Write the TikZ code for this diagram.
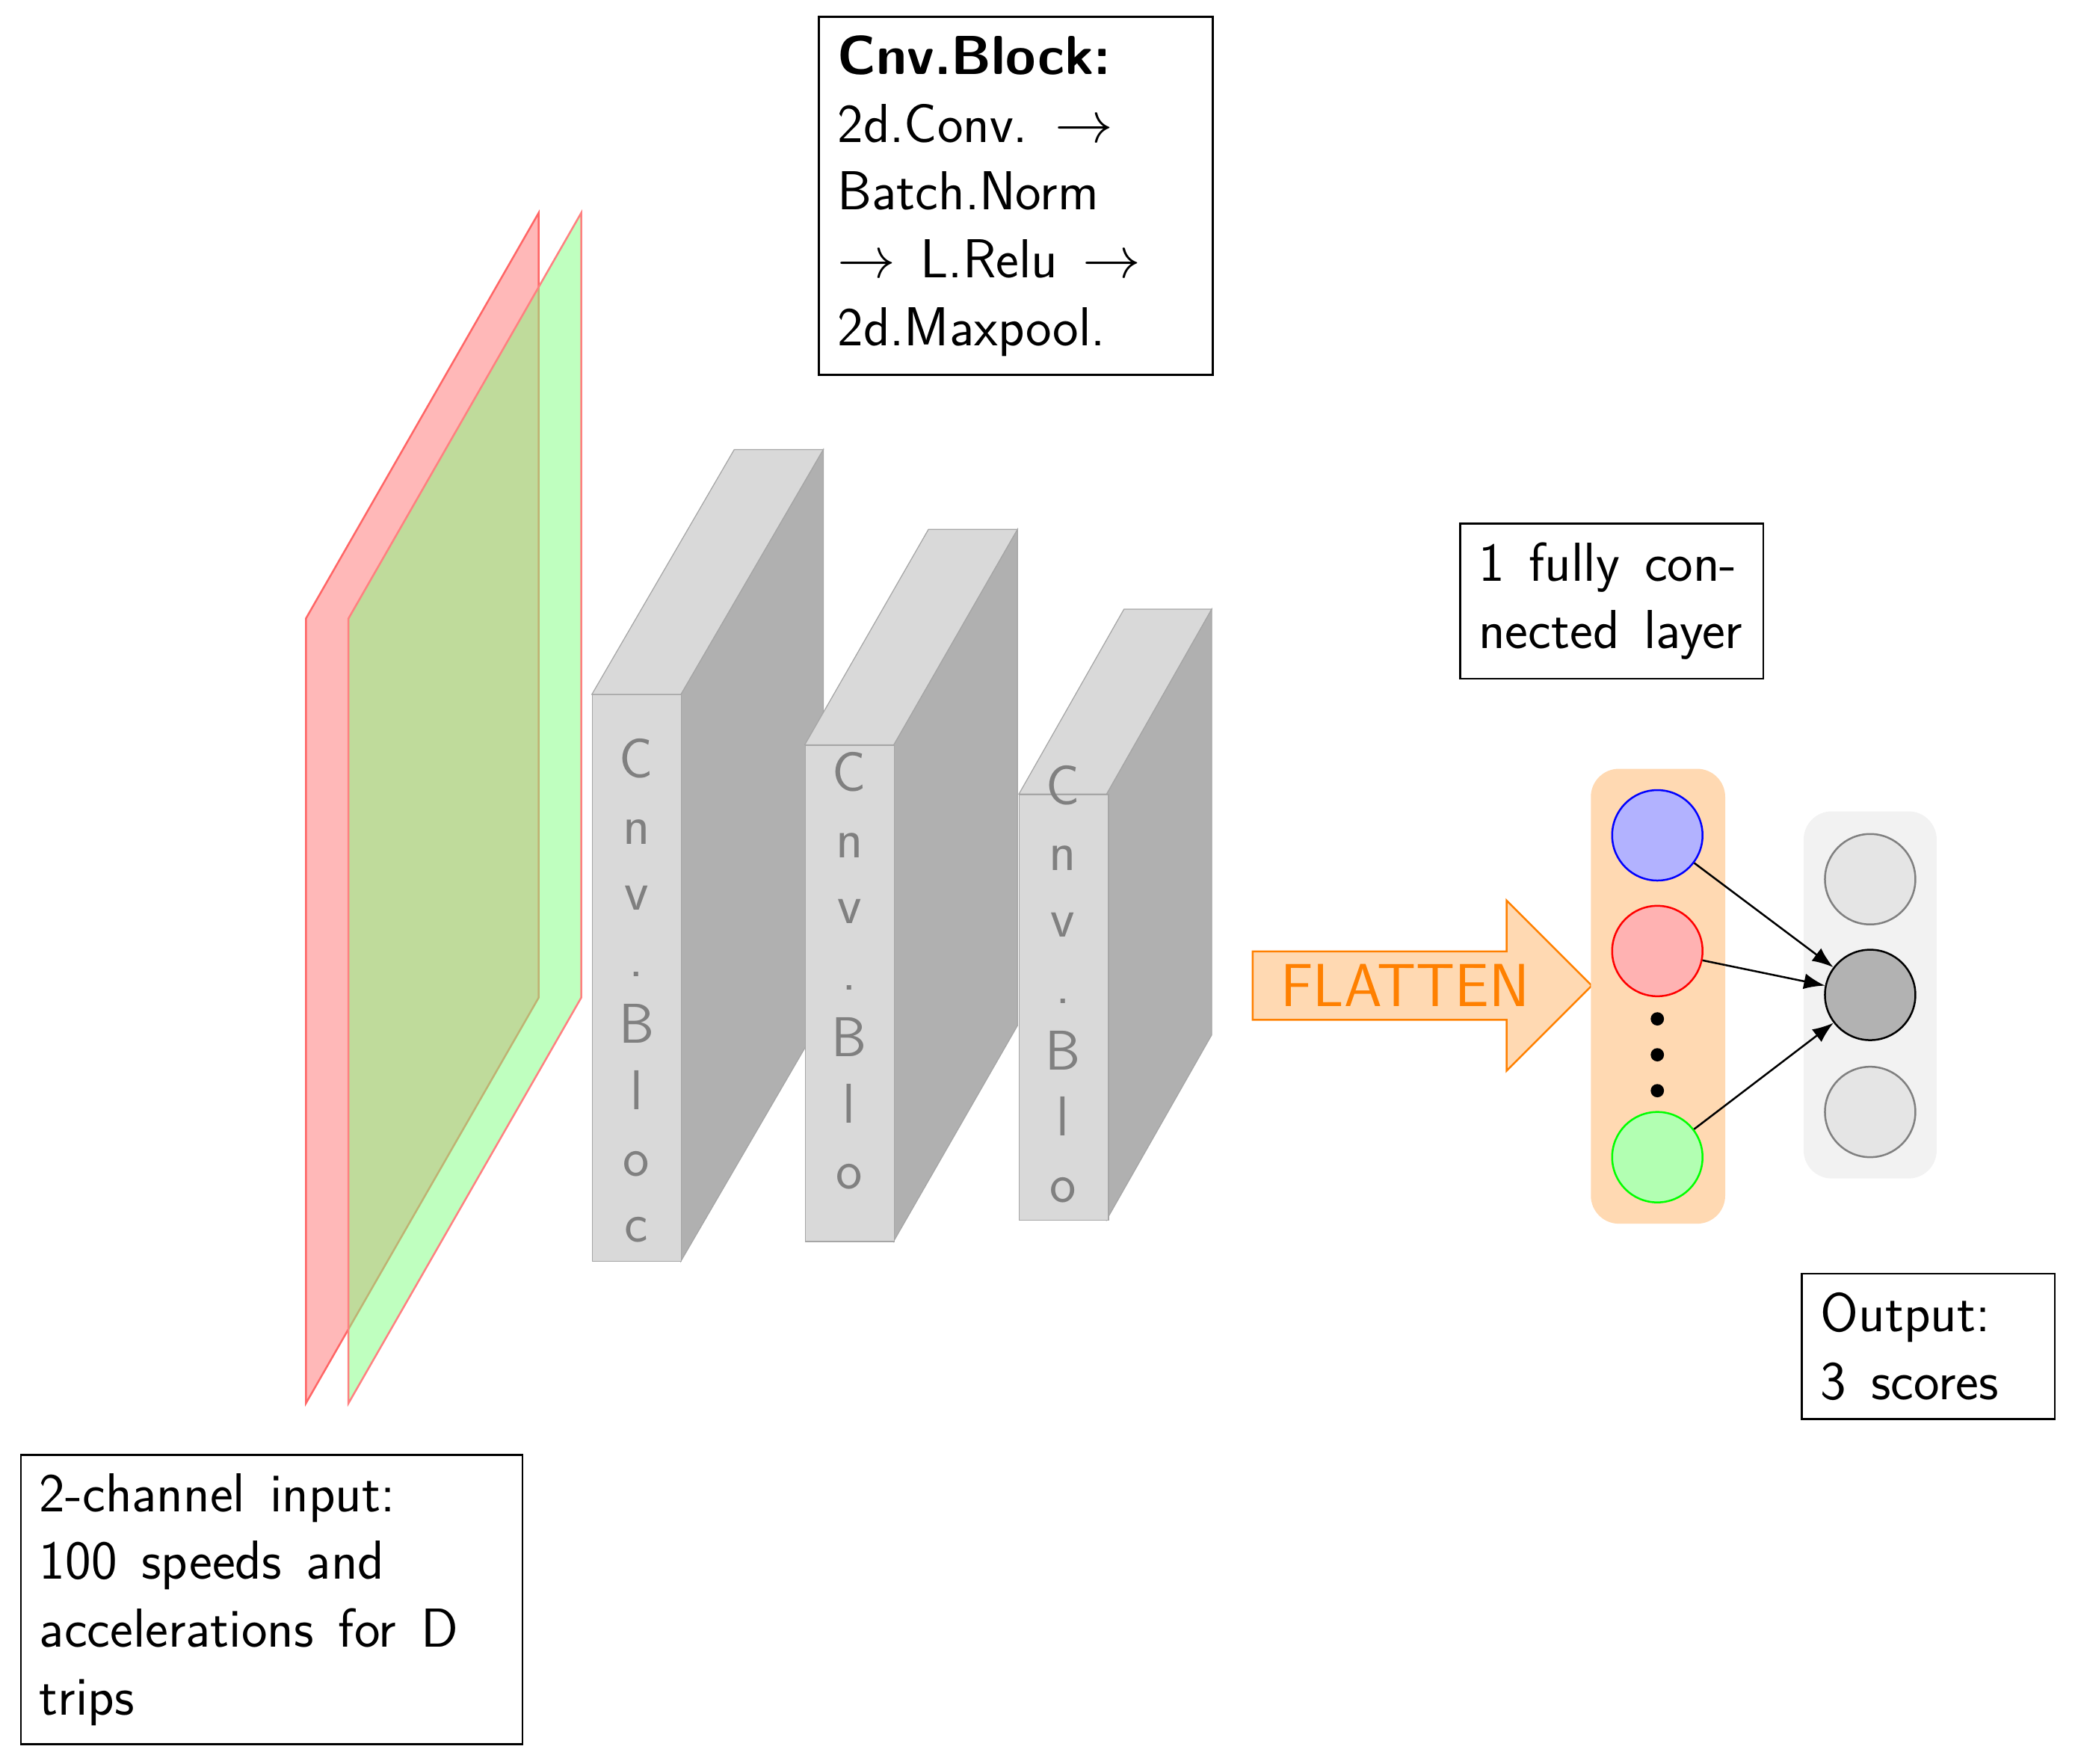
\documentclass[tikz,border=0pt]{standalone}
\usetikzlibrary{shapes.arrows,arrows.meta}
\newcommand\widespaces{\spaceskip=0.45em plus 0.1em\relax}
\begin{document}
\begin{tikzpicture}[x=0.02cm,y=-0.02cm,
  every node/.style={font=\fontsize{23.5}{29}\selectfont\sffamily},
  box/.style={draw,thick,align=left,anchor=north west,inner sep=8pt,execute at begin node={\widespaces}},
  front/.style={fill=gray!30,draw=gray!70,thin},
  side/.style={fill=gray!62,draw=gray!70,thin},
  neuron/.style={circle,minimum size=1.36cm,inner sep=0pt,thick},
  conn/.style={-{Latex[length=9pt]},thick}]
\useasboundingbox (0,0) rectangle (1560,1326);
% input planes
\filldraw[fill=red!28,draw=red!60,thick] (230,1055)--(230,465)--(405,160)--(405,750)--cycle;
\filldraw[fill=green!50,fill opacity=0.5,draw=red!50,thick] (262,1055)--(262,465)--(437,160)--(437,750)--cycle;
% blocks
\foreach \x/\y/\w/\h/\dx/\dy/\txt/\n/\s in {445/522/67/426/107/-184/{C\\n\\v\\.\\B\\l\\o\\c}/a/555,605/560/67/373/93/-162/{C\\n\\v\\.\\B\\l\\o}/b/565,766/597/66/320/79/-139/{C\\n\\v\\.\\B\\l\\o}/c/575}{
  \filldraw[front] (\x,\y)--++(\dx,\dy)--++(\w,0)--++(-\dx,-\dy)--cycle;
  \filldraw[side] (\x+\w,\y)--++(\dx,\dy)--++(0,\h)--++(-\dx,-\dy)--cycle;
  \node[front,minimum width=1.34cm,minimum height=\h*0.02cm,anchor=north west,inner sep=0pt] (blk\n) at (\x,\y) {};
  \node[anchor=north,text=gray,align=center,font=\fontsize{24}{28.4}\selectfont\sffamily,inner sep=0pt] at (\x+\w/2,\s) {\txt};
}
% text boxes
\node[box,text width=5.36cm] (cnv) at (615,12) {\textbf{Cnv.Block:}\\2d.Conv. $\rightarrow$\\Batch.Norm\\$\rightarrow$ L.Relu $\rightarrow$\\2d.Maxpool.};
\node[box,text width=4.0cm] (fc) at (1097,393) {1 fully con-\\nected layer};
\node[box,text width=3.24cm] (out) at (1354,957) {Output:\\3 scores};
\node[box,text width=6.98cm] (inp) at (15,1093) {2-channel input:\\100 speeds and\\accelerations for D\\trips};
% flatten arrow
\node[single arrow,draw=orange,fill=orange!30,thick,text=orange,minimum height=5.1cm,minimum width=2.56cm,single arrow head extend=0.6cm,inner sep=2pt,anchor=west,font=\fontsize{26}{30}\selectfont\sffamily] (fl) at (941,741) {FLATTEN\hspace{0.9cm}};
% layers
\fill[orange!30,rounded corners=12pt] (1196,578) rectangle (1297,920);
\fill[gray!10,rounded corners=12pt] (1356,610) rectangle (1456,886);
\node[neuron,draw=blue,fill=blue!30] (n1) at (1246,628) {};
\node[neuron,draw=red,fill=red!30] (n2) at (1246,715) {};
\node[neuron,draw=green,fill=green!30] (n3) at (1246,870) {};
\foreach \y in {766,793,820} \fill (1246,\y) circle (5);
\node[neuron,draw=gray,fill=gray!20] (o1) at (1406,661) {};
\node[neuron,draw=black,fill=gray!60] (o2) at (1406,748) {};
\node[neuron,draw=gray,fill=gray!20] (o3) at (1406,836) {};
\draw[conn] (n1) -- (o2);
\draw[conn] (n2) -- (o2);
\draw[conn] (n3) -- (o2);
\end{tikzpicture}
\end{document}
